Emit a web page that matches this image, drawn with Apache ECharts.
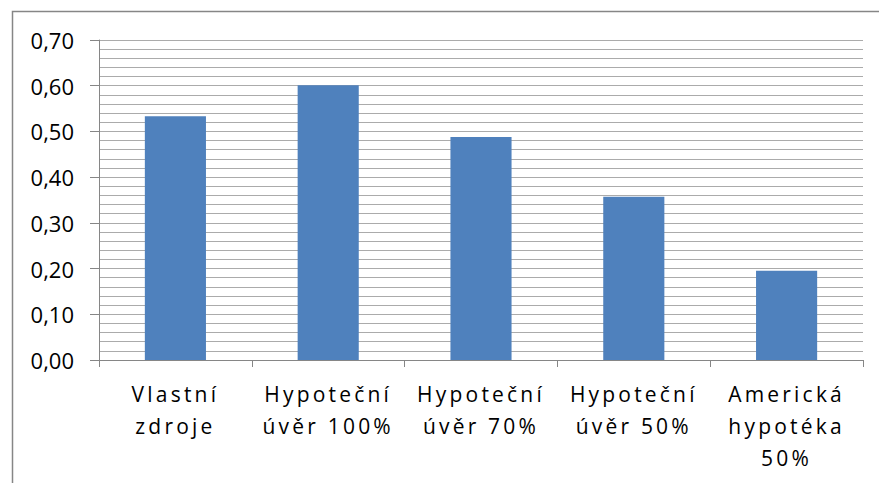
<!DOCTYPE html>
<html><head><meta charset="utf-8">
<script src="https://cdn.jsdelivr.net/npm/echarts@6/dist/echarts.min.js"></script>
<style>
html,body{margin:0;padding:0;background:#fff;}
#c{width:879px;height:483px;}
#c svg text[text-anchor="middle"]{letter-spacing:3.2px;}
</style></head>
<body><div id="c"></div>
<script>
const categories = ["Vlastní\nzdroje", "Hypoteční\núvěr 100%", "Hypoteční\núvěr 70%", "Hypoteční\núvěr 50%", "Americká\nhypotéka\n50%"];
const values = [0.533, 0.601, 0.488, 0.357, 0.195];
const yTicks = [0, 0.1, 0.2, 0.3, 0.4, 0.5, 0.6, 0.7];

const chart = echarts.init(document.getElementById('c'), null, {renderer: 'svg'});
const fontFamily = '"Open Sans", sans-serif';
chart.setOption({
  animation: false,
  backgroundColor: '#fff',
  graphic: [{
    type: 'rect', left: 10, top: 9, shape: {width: 900, height: 500},
    style: {fill: 'none', stroke: '#868686', lineWidth: 1.5}, silent: true
  }],
  grid: {left: 99, right: 16, top: 40, bottom: 123},
  xAxis: {
    type: 'category',
    data: categories,
    axisLine: {lineStyle: {color: '#868686', width: 1}},
    axisTick: {show: true, length: 7, lineStyle: {color: '#868686'}},
    axisLabel: {
      interval: 0, margin: 18, color: '#000',
      fontFamily: fontFamily, fontSize: 21, lineHeight: 32, align: 'center'
    },
    splitLine: {show: false}
  },
  yAxis: {
    type: 'value',
    min: yTicks[0], max: yTicks[yTicks.length - 1], interval: 0.1,
    axisLine: {show: true, lineStyle: {color: '#868686', width: 1}},
    axisTick: {show: true, length: 9, lineStyle: {color: '#868686'}},
    axisLabel: {
      margin: 25, color: '#000', fontFamily: fontFamily, fontSize: 22,
      formatter: v => v.toFixed(2).replace('.', ',')
    },
    splitLine: {show: true, lineStyle: {color: '#ababab', width: 1}},
    minorTick: {show: false, splitNumber: 5},
    minorSplitLine: {show: true, lineStyle: {color: '#ababab', width: 1}}
  },
  series: [{
    type: 'bar',
    data: values,
    barWidth: '40%',
    itemStyle: {color: '#4f81bd'}
  }]
});
</script></body></html>
